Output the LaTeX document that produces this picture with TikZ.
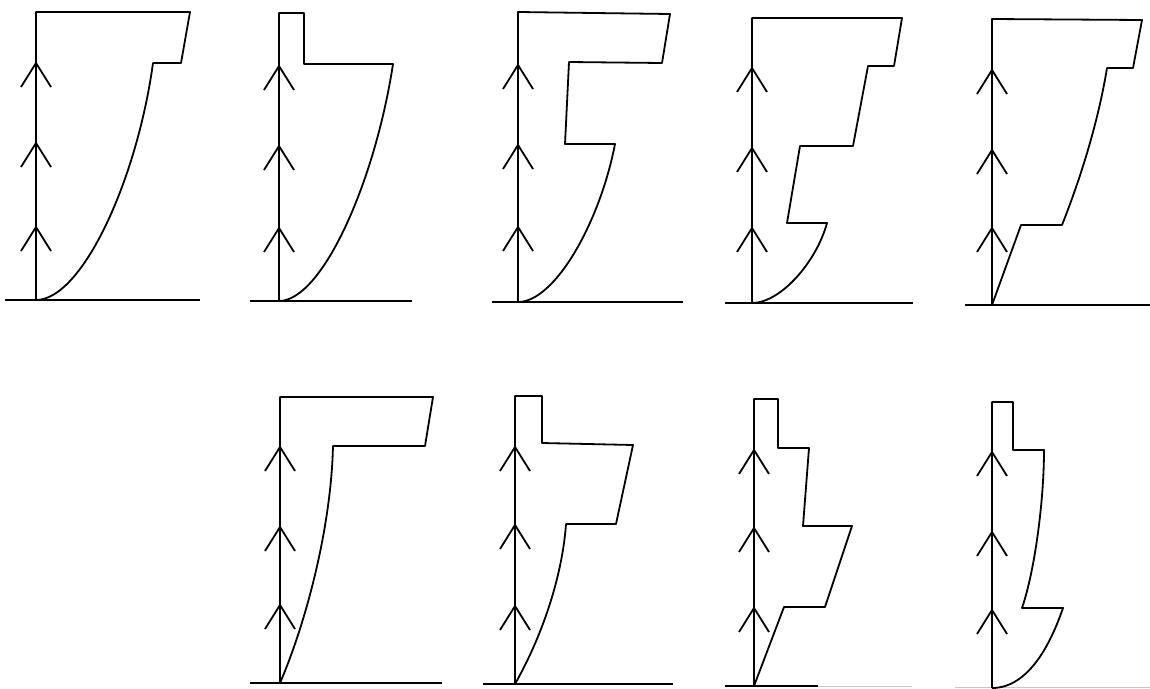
\documentclass[tikz,border=0pt]{standalone}
\begin{document}
\begin{tikzpicture}[x=1pt,y=-1pt,line width=1.8pt,line join=round]
    \useasboundingbox (0,0) rectangle (1150,688);
    % top row
    \draw (5,300)--(200,300);
    \draw (250,301)--(412,301);
    \draw (492,302)--(683,302);
    \draw (725,303)--(913,303);
    \draw (965,305)--(1150,305);
    \draw (36,300)--(36,12)--(190,12)--(181,63)--(153,63) .. controls (137,180) and (82,300) .. (36,300);
    \draw (279,300)--(279,13)--(304,13)--(304,64)--(393,64) .. controls (375,182) and (322,301) .. (279,301);
    \draw (518,301)--(518,12)--(670,14)--(662,63)--(569,62)--(565,144)--(615,144) .. controls (600,222) and (555,302) .. (518,302);
    \draw (752,302)--(752,18)--(902,18)--(894,66)--(868,66)--(853,146)--(800,146)--(787,223)--(827,223) .. controls (816,263) and (780,303) .. (752,303);
    \draw (992,305)--(992,19)--(1142,20)--(1133,68)--(1107,68) .. controls (1099,117) and (1083,172) .. (1062,225)--(1021,225)--(992,305);
    % bottom row
    \draw (250,683)--(442,683);
    \draw (483,684)--(673,684);
    \draw (725,686)--(818,686);
    \draw[gray!45,line width=0.9pt] (818,686)--(912,686);
    \draw[gray!45,line width=0.9pt] (955,687)--(1150,687);
    \draw (280,683)--(280,397)--(433,397)--(425,446)--(333,446) .. controls (331,530) and (305,625) .. (280,683);
    \draw (515,684)--(515,396)--(542,396)--(542,443)--(633,445)--(616,524)--(566,524) .. controls (562,580) and (540,640) .. (515,684);
    \draw (754,686)--(754,399)--(778,399)--(778,448)--(809,448)--(803,526)--(852,526)--(825,607)--(784,607)--(754,686);
    \draw (992,688)--(992,402)--(1013,402)--(1013,450)--(1044,450) .. controls (1044,500) and (1035,570) .. (1022,608)--(1063,608) .. controls (1052,640) and (1030,688) .. (992,688);
    \foreach \x/\a/\b/\c in {36/63/143/227, 279/66/146/228, 518/65/145/227, 752/68/148/228, 992/70/150/228,
        280/447/527/605, 515/447/525/606, 754/450/528/608, 992/452/532/610}
      \foreach \y in {\a,\b,\c}
        \draw (\x-15,\y+24)--(\x,\y)--(\x+15,\y+24);
\end{tikzpicture}
\end{document}
